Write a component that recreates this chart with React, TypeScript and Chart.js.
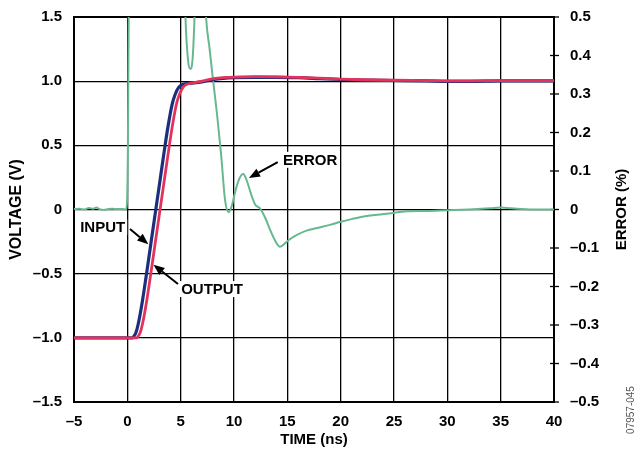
import React, { useEffect, useRef } from "react";
import { Chart, registerables } from "chart.js";

Chart.register(...registerables);

// ---- data ----
const inputTime = [-5, 0.5, 0.6, 0.8, 1.0, 1.4, 1.8, 2.2, 2.6, 3.0, 3.4, 3.8, 4.2, 4.5, 4.8, 5.1, 5.4, 6.0, 7.0, 8.0, 9.0, 10, 12, 14, 16, 18, 20, 22, 25, 28, 30, 32, 35, 40];
const inputVoltage = [-1, -1, -0.99, -0.96, -0.9, -0.72, -0.5, -0.27, -0.04, 0.19, 0.42, 0.64, 0.82, 0.9, 0.95, 0.972, 0.98, 0.985, 0.995, 1.012, 1.022, 1.027, 1.03, 1.03, 1.027, 1.02, 1.013, 1.008, 1.005, 1.002, 0.998, 0.998, 1.002, 1.003];

const outputTime = [-5, 0.9, 1.0, 1.2, 1.4, 1.8, 2.2, 2.6, 3.0, 3.4, 3.8, 4.2, 4.6, 4.9, 5.2, 5.5, 5.8, 6.3, 7, 8, 9, 10, 12, 14, 16, 18, 20, 22, 25, 28, 30, 32, 35, 40];
const outputVoltage = [-1, -1, -0.99, -0.96, -0.9, -0.72, -0.5, -0.27, -0.04, 0.19, 0.42, 0.64, 0.82, 0.9, 0.95, 0.972, 0.982, 0.988, 1.0, 1.017, 1.027, 1.032, 1.035, 1.034, 1.03, 1.023, 1.016, 1.011, 1.007, 1.005, 1.003, 1.003, 1.004, 1.005];

const errorTime = [-5, -4.5, -4, -3.6, -3.2, -2.9, -2.6, -2.2, -1.8, -1.4, -1, -0.5, -0.1, 0.05, 0.15, 0.3, 2, 4, 5.2, 5.45, 5.7, 5.9, 6.1, 6.3, 6.6, 7.0, 7.38, 7.7, 8.0, 8.4, 8.8, 9.16, 9.5, 9.8, 10.1, 10.5, 10.86, 11.2, 11.6, 12.0, 12.4, 12.9, 13.5, 14.0, 14.3, 14.7, 15.2, 15.9, 16.8, 17.8, 19, 20, 21, 21.8, 23, 24.9, 26, 28, 30, 32, 34, 35, 36, 38, 40];
const errorPercent = [0.001, 0.002, 0, 0.004, 0.002, 0.005, 0.001, -0.001, 0.001, 0.002, 0.001, 0.001, 0, 0.15, 0.6, 2, 2, 2, 0.8, 0.5, 0.385, 0.365, 0.385, 0.5, 0.8, 0.75, 0.5, 0.42, 0.345, 0.25, 0.14, 0.025, -0.007, 0.01, 0.045, 0.08, 0.092, 0.075, 0.04, 0.012, 0.004, -0.02, -0.06, -0.088, -0.097, -0.09, -0.078, -0.066, -0.055, -0.048, -0.04, -0.032, -0.025, -0.02, -0.015, -0.009, -0.005, -0.004, -0.002, 0, 0.003, 0.005, 0.003, 0, 0];

const timeTicks = [-5, 0, 5, 10, 15, 20, 25, 30, 35, 40];
const timeLabels = ["\u20135", "0", "5", "10", "15", "20", "25", "30", "35", "40"];
const voltageTicks = [-1.5, -1, -0.5, 0, 0.5, 1, 1.5];
const voltageLabels = ["\u20131.5", "\u20131.0", "\u20130.5", "0", "0.5", "1.0", "1.5"];
const errorTicks = [-0.5, -0.4, -0.3, -0.2, -0.1, 0, 0.1, 0.2, 0.3, 0.4, 0.5];
const errorLabels = ["\u20130.5", "\u20130.4", "\u20130.3", "\u20130.2", "\u20130.1", "0", "0.1", "0.2", "0.3", "0.4", "0.5"];

// annotation labels in data coordinates
const annotations = [
  { text: "INPUT", axis: "y", tx: -0.2, ty: -0.136, align: "right", from: [0.25, -0.152], to: [1.97, -0.27] },
  { text: "OUTPUT", axis: "y", tx: 5.05, ty: -0.62, align: "left", from: [4.75, -0.58], to: [2.45, -0.43] },
  { text: "ERROR", axis: "yErr", tx: 14.6, ty: 0.129, align: "left", from: [14.1, 0.123], to: [11.4, 0.082] },
];

const FONT = "'Liberation Sans', Arial, Helvetica, sans-serif";
const BLUE = "#1c2f7c";
const RED = "#e3325c";
const GREEN = "#66b98f";

function pts(xs: number[], ys: number[]) {
  return xs.map((x, i) => ({ x, y: ys[i] }));
}

function drawArrow(ctx: CanvasRenderingContext2D, x1: number, y1: number, x2: number, y2: number) {
  const ang = Math.atan2(y2 - y1, x2 - x1);
  const hl = 11, hw = 4.5;
  const bx = x2 - hl * Math.cos(ang), by = y2 - hl * Math.sin(ang);
  ctx.beginPath();
  ctx.moveTo(x1, y1);
  ctx.lineTo(bx, by);
  ctx.lineWidth = 2;
  ctx.strokeStyle = "#000";
  ctx.stroke();
  ctx.beginPath();
  ctx.moveTo(x2, y2);
  ctx.lineTo(bx + hw * Math.sin(ang), by - hw * Math.cos(ang));
  ctx.lineTo(bx - hw * Math.sin(ang), by + hw * Math.cos(ang));
  ctx.closePath();
  ctx.fillStyle = "#000";
  ctx.fill();
}

const overlay = {
  id: "overlay",
  beforeDatasetsDraw(chart: any) {
    const { ctx, chartArea: a } = chart;
    ctx.save();
    ctx.strokeStyle = "#000";
    ctx.lineWidth = 2;
    ctx.strokeRect(a.left, a.top, a.right - a.left, a.bottom - a.top);
    const yr = chart.scales.yErr;
    ctx.lineWidth = 1.3;
    errorTicks.forEach((v) => {
      const y = yr.getPixelForValue(v);
      ctx.beginPath();
      ctx.moveTo(a.right - 4, y);
      ctx.lineTo(a.right + 5, y);
      ctx.stroke();
    });
    ctx.restore();
  },
  afterDatasetsDraw(chart: any) {
    const { ctx, chartArea: a } = chart;
    const xs = chart.scales.x;
    ctx.save();
    ctx.font = `bold 15px ${FONT}`;
    ctx.textBaseline = "middle";
    annotations.forEach((an) => {
      const ys = chart.scales[an.axis];
      const tx = xs.getPixelForValue(an.tx);
      const ty = ys.getPixelForValue(an.ty);
      const w = ctx.measureText(an.text).width;
      const left = an.align === "right" ? tx - w : tx;
      ctx.fillStyle = "#fff";
      ctx.fillRect(left - 2, ty - 8, w + 4, 16);
      ctx.fillStyle = "#000";
      ctx.textAlign = an.align as CanvasTextAlign;
      ctx.fillText(an.text, tx, ty + 1);
      drawArrow(
        ctx,
        xs.getPixelForValue(an.from[0]),
        ys.getPixelForValue(an.from[1]),
        xs.getPixelForValue(an.to[0]),
        ys.getPixelForValue(an.to[1])
      );
    });
    // right axis title
    ctx.save();
    ctx.translate(622, (a.top + a.bottom) / 2);
    ctx.rotate(-Math.PI / 2);
    ctx.textAlign = "center";
    ctx.textBaseline = "middle";
    ctx.fillStyle = "#000";
    ctx.font = `bold 15px ${FONT}`;
    ctx.fillText("ERROR (%)", 0, 0);
    ctx.restore();
    // figure code
    ctx.save();
    ctx.translate(631, 410);
    ctx.rotate(-Math.PI / 2);
    ctx.textAlign = "center";
    ctx.textBaseline = "middle";
    ctx.fillStyle = "#555";
    ctx.font = `10px ${FONT}`;
    ctx.fillText("07957-045", 0, 0);
    ctx.restore();
    ctx.restore();
  },
};

export default function App() {
  const ref = useRef<HTMLCanvasElement | null>(null);
  useEffect(() => {
    document.body.style.margin = "0";
    const canvas = ref.current;
    if (!canvas) return;
    const tickFont = { family: FONT, size: 15, weight: "bold" as const };
    const chart = new Chart(canvas, {
      type: "line",
      data: {
        datasets: [
          {
            label: "OUTPUT",
            data: pts(outputTime, outputVoltage),
            yAxisID: "y",
            borderColor: RED,
            borderWidth: 2.8,
            pointRadius: 0,
            cubicInterpolationMode: "monotone",
          },
          {
            label: "INPUT",
            data: pts(inputTime, inputVoltage),
            yAxisID: "y",
            borderColor: BLUE,
            borderWidth: 3.2,
            pointRadius: 0,
            cubicInterpolationMode: "monotone",
          },
          {
            label: "ERROR",
            data: pts(errorTime, errorPercent),
            yAxisID: "yErr",
            borderColor: GREEN,
            borderWidth: 2,
            pointRadius: 0,
            cubicInterpolationMode: "monotone",
          },
        ],
      },
      options: {
        animation: false,
        responsive: false,
        devicePixelRatio: 1,
        layout: { padding: { top: 17, left: 0, right: 0, bottom: 0 } },
        plugins: { legend: { display: false }, tooltip: { enabled: false } },
        scales: {
          x: {
            type: "linear",
            min: -5,
            max: 40,
            afterBuildTicks: (s: any) => {
              s.ticks = timeTicks.map((value) => ({ value }));
            },
            afterFit: (s: any) => {
              s.height = 48;
              s.paddingLeft = 0;
              s.paddingRight = 0;
            },
            ticks: {
              font: tickFont,
              color: "#000",
              padding: 11,
              maxRotation: 0,
              autoSkip: false,
              callback: (_v: any, i: number) => timeLabels[i],
            },
            grid: { color: "#000", lineWidth: 1.3, drawTicks: false },
            border: { display: false },
            title: {
              display: true,
              text: "TIME (ns)",
              color: "#000",
              font: { family: FONT, size: 15, weight: "bold" },
              padding: { top: 0, bottom: 1 },
            },
          },
          y: {
            type: "linear",
            position: "left",
            min: -1.5,
            max: 1.5,
            afterBuildTicks: (s: any) => {
              s.ticks = voltageTicks.map((value) => ({ value }));
            },
            afterFit: (s: any) => {
              s.width = 74;
              s.paddingTop = 0;
              s.paddingBottom = 0;
            },
            ticks: {
              font: tickFont,
              color: "#000",
              padding: 12,
              autoSkip: false,
              callback: (_v: any, i: number) => voltageLabels[i],
            },
            grid: { color: "#000", lineWidth: 1.3, drawTicks: false },
            border: { display: false },
            title: {
              display: true,
              text: "VOLTAGE (V)",
              color: "#000",
              font: { family: FONT, size: 16, weight: "bold" },
              padding: { top: 7, bottom: 0 },
            },
          },
          yErr: {
            type: "linear",
            position: "right",
            min: -0.5,
            max: 0.5,
            afterBuildTicks: (s: any) => {
              s.ticks = errorTicks.map((value) => ({ value }));
            },
            afterFit: (s: any) => {
              s.width = 82;
              s.paddingTop = 0;
              s.paddingBottom = 0;
            },
            ticks: {
              font: tickFont,
              color: "#000",
              padding: 16,
              autoSkip: false,
              callback: (_v: any, i: number) => errorLabels[i],
            },
            grid: { display: true, drawOnChartArea: false, drawTicks: false, color: "#000" },
            border: { display: false },
          },
        },
      },
      plugins: [overlay],
    } as any);
    return () => chart.destroy();
  }, []);
  return (
    <div style={{ position: "relative", width: 636, height: 450 }}>
      <canvas ref={ref} width={636} height={450} style={{ display: "block" }} />
    </div>
  );
}
